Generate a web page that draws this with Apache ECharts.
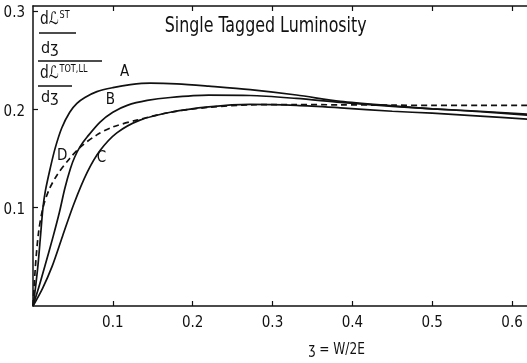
<!DOCTYPE html>
<html>
<head>
<meta charset="utf-8">
<script src="https://cdn.jsdelivr.net/npm/echarts@6/dist/echarts.min.js"></script>
<style>
  html, body { margin: 0; padding: 0; background: #fff; }
  #chart { width: 527px; height: 363px; }
</style>
</head>
<body>
<div id="chart"></div>
<script>
// Ratio of single-tagged to total luminosity as a function of z = W/2E
const xTickValues = [0.1, 0.2, 0.3, 0.4, 0.5, 0.6];
const yTickValues = [0.1, 0.2, 0.3];

const curveA_x = [0, 0.003, 0.0063, 0.0095, 0.0125, 0.0155, 0.0213, 0.0276, 0.036, 0.046, 0.055, 0.065, 0.08, 0.1, 0.122, 0.147, 0.18, 0.22, 0.272, 0.33, 0.385, 0.45, 0.5, 0.56, 0.62];
const curveA_y = [0, 0.018, 0.042, 0.072, 0.100, 0.117, 0.139, 0.160, 0.181, 0.197, 0.206, 0.212, 0.218, 0.222, 0.225, 0.2265, 0.2258, 0.2235, 0.220, 0.2145, 0.208, 0.2035, 0.2005, 0.1975, 0.194];

const curveB_x = [0, 0.008, 0.015, 0.025, 0.033, 0.04, 0.047, 0.052, 0.059, 0.068, 0.084, 0.1, 0.118, 0.143, 0.172, 0.22, 0.272, 0.33, 0.385, 0.45, 0.5, 0.56, 0.62];
const curveB_y = [0, 0.021, 0.041, 0.070, 0.095, 0.120, 0.140, 0.151, 0.162, 0.172, 0.187, 0.197, 0.204, 0.209, 0.212, 0.2143, 0.214, 0.211, 0.207, 0.203, 0.2005, 0.198, 0.195];

const curveC_x = [0, 0.012, 0.0238, 0.037, 0.0513, 0.068, 0.084, 0.105, 0.134, 0.172, 0.22, 0.272, 0.33, 0.385, 0.45, 0.5, 0.56, 0.62];
const curveC_y = [0, 0.018, 0.040, 0.071, 0.104, 0.136, 0.158, 0.176, 0.189, 0.197, 0.2025, 0.205, 0.204, 0.2015, 0.198, 0.196, 0.193, 0.190];

const curveD_x = [0, 0.003, 0.007, 0.0125, 0.02, 0.03, 0.046, 0.06, 0.08, 0.1, 0.13, 0.172, 0.22, 0.272, 0.33, 0.385, 0.45, 0.5, 0.56, 0.62];
const curveD_y = [0, 0.040, 0.075, 0.100, 0.118, 0.133, 0.150, 0.162, 0.174, 0.182, 0.189, 0.197, 0.202, 0.2045, 0.2048, 0.2045, 0.2042, 0.204, 0.204, 0.204];

const curveNames = ['A', 'B', 'C', 'D'];

const FONT = '"DejaVu Sans Condensed", "DejaVu Sans", sans-serif';
const INK = '#111';

function pairs(xs, ys) { return xs.map((x, i) => [x, ys[i]]); }
function fmt(v) { return v.toFixed(1); }

function lineSeries(name, xs, ys, dashed) {
  return {
    name: name,
    type: 'line',
    data: pairs(xs, ys),
    smooth: 0.3,
    showSymbol: false,
    silent: true,
    lineStyle: { color: INK, width: 1.7, type: dashed ? [6, 4] : 'solid' },
    z: 3
  };
}

const chart = echarts.init(document.getElementById('chart'), null, { renderer: 'canvas' });

const tickLabel = { color: INK, fontFamily: FONT, fontSize: 15 };

const axisCommon = {
  type: 'value',
  axisLine: { show: true, lineStyle: { color: INK, width: 1.5 } },
  splitLine: { show: false }
};

const option = {
  backgroundColor: '#fff',
  animation: false,
  grid: { left: 33, top: 6, width: 495, height: 300, outerBoundsMode: 'none', containLabel: false },
  xAxis: [
    {
      ...axisCommon, min: 0, max: 0.62, interval: 0.1, position: 'bottom',
      axisTick: { show: true, inside: true, length: 5, lineStyle: { color: INK, width: 1.2 }, customValues: xTickValues },
      axisLabel: { ...tickLabel, margin: 10, customValues: xTickValues, formatter: fmt }
    },
    {
      ...axisCommon, min: 0, max: 0.62, interval: 0.1, position: 'top',
      axisTick: { show: true, inside: true, length: 5, lineStyle: { color: INK, width: 1.2 }, customValues: xTickValues },
      axisLabel: { show: false }
    }
  ],
  yAxis: {
    ...axisCommon, min: 0, max: 0.305, interval: 0.1,
    axisTick: { show: true, inside: true, length: 5, lineStyle: { color: INK, width: 1.2 }, customValues: yTickValues },
    axisLabel: { ...tickLabel, margin: 8, customValues: yTickValues, formatter: fmt, verticalAlign: 'top', padding: [-5, 0, 0, 0] }
  },
  series: [
    lineSeries(curveNames[0], curveA_x, curveA_y, false),
    lineSeries(curveNames[1], curveB_x, curveB_y, false),
    lineSeries(curveNames[2], curveC_x, curveC_y, false),
    lineSeries(curveNames[3], curveD_x, curveD_y, true)
  ]
};

chart.setOption(option);

// Annotations placed in data coordinates
function at(x, y) { return chart.convertToPixel({ gridIndex: 0 }, [x, y]); }

const txt = (x, y, s, size, sx) => ({
  type: 'text', x: x, y: y, z: 10, scaleX: sx || 1,
  style: { text: s, fill: INK, font: size + 'px ' + FONT, textAlign: 'left', textVerticalAlign: 'middle' }
});
const bar = (x1, x2, y) => ({
  type: 'line', z: 10,
  shape: { x1: x1, y1: y, x2: x2, y2: y },
  style: { stroke: INK, lineWidth: 1.3 }
});
const dL = (x, y, sup) => ({
  type: 'text', x: x, y: y, z: 10, scaleX: 0.9,
  style: { text: '{m|dℒ}{s|' + sup + '}', textVerticalAlign: 'middle',
    rich: {
      m: { font: '17px ' + FONT, fill: INK },
      s: { font: '10px ' + FONT, fill: INK, verticalAlign: 'top', padding: [0, 0, 9, 1] }
    } }
});

const pA = at(0.109, 0.238), pB = at(0.091, 0.209), pC = at(0.080, 0.150), pD = at(0.030, 0.152);
const title = at(0.165, 0.284);
const axisNameX = chart.convertToPixel({ xAxisIndex: 0 }, 0.345);

chart.setOption({ graphic: [
  txt(title[0], title[1], 'Single Tagged Luminosity', 21, 0.84),
  txt(pA[0], pA[1], 'A', 15),
  txt(pB[0], pB[1], 'B', 15),
  txt(pC[0], pC[1], 'C', 15),
  txt(pD[0], pD[1], 'D', 15),
  // y quantity: (dL^ST/dz) / (dL^TOT,LL/dz)
  dL(40, 20, 'ST'),
  bar(39, 76, 33),
  txt(41, 49, 'dʒ', 16),
  bar(38, 102, 61),
  dL(40, 74, 'TOT,LL'),
  bar(38, 72, 86),
  txt(41, 98, 'dʒ', 16),
  txt(axisNameX, 350, 'ʒ = W/2E', 15, 0.9)
] });
</script>
</body>
</html>
